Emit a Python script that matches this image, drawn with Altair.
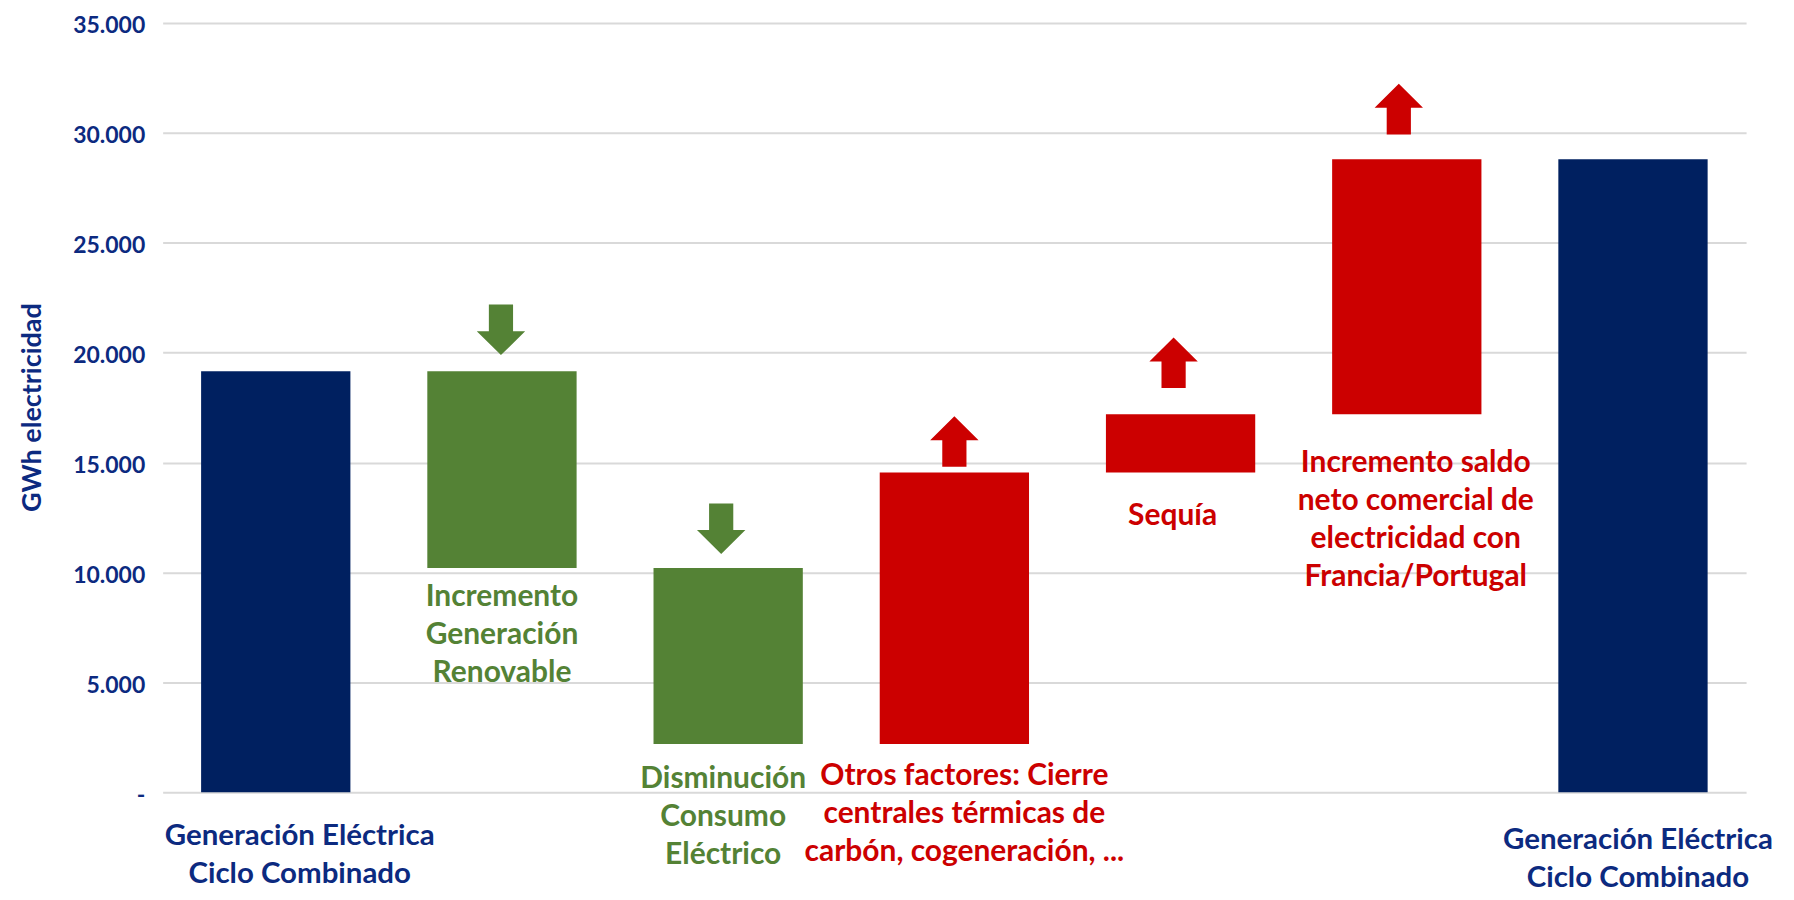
import altair as alt
import pandas as pd

# ---------------- data ----------------
categories = [
    "Generación Eléctrica Ciclo Combinado (inicial)",
    "Incremento Generación Renovable",
    "Disminución Consumo Eléctrico",
    "Otros factores",
    "Sequía",
    "Incremento saldo neto comercial",
    "Generación Eléctrica Ciclo Combinado (final)",
]
changes = [19150, -8950, -8000, 12350, 2650, 11600, None]  # None = running total
kinds = ["total", "baja", "baja", "sube", "sube", "sube", "total"]
labels = [
    ["Generación Eléctrica", "Ciclo Combinado"],
    ["Incremento", "Generación", "Renovable"],
    ["Disminución", "Consumo", "Eléctrico"],
    ["Otros factores: Cierre", "centrales térmicas de", "carbón, cogeneración, ..."],
    ["Sequía"],
    ["Incremento saldo", "neto comercial de", "electricidad con", "Francia/Portugal"],
    ["Generación Eléctrica", "Ciclo Combinado"],
]
y_ticks = [0, 5000, 10000, 15000, 20000, 25000, 30000, 35000]

# waterfall table
rows = []
level = 0
for cat, ch, kind, lab in zip(categories, changes, kinds, labels):
    if kind == "total":
        if ch is not None:
            level = ch
        low, high = 0, level
    else:
        new = level + ch
        low, high = min(level, new), max(level, new)
        level = new
    rows.append({"cat": cat, "low": low, "high": high, "kind": kind, "label": lab})
df = pd.DataFrame(rows)

# ---------------- styles ----------------
NAVY, GREEN, RED = "#002060", "#548235", "#CC0000"
NAVY_TEXT = "#0C2A80"
FONT = "Lato"
bar_scale = alt.Scale(domain=["total", "baja", "sube"], range=[NAVY, GREEN, RED])
text_scale = alt.Scale(domain=["total", "baja", "sube"], range=[NAVY_TEXT, GREEN, RED])
UP = "M0,-1.045 L1,-0.055 L0.5,-0.055 L0.5,1.045 L-0.5,1.045 L-0.5,-0.055 L-1,-0.055 Z"
DOWN = "M0,1.045 L1,0.055 L0.5,0.055 L0.5,-1.045 L-0.5,-1.045 L-0.5,0.055 L-1,0.055 Z"

# per-label placement (pixels)
label_dx = [24, 0, -5, 10, -8, 9, 5]
label_dy = [52.5, 38.3, 44.2, 41.2, 52.6, 57.8, 56.5]
# per-arrow placement (pixels), for indexes 1..5
arrow_dx = {1: -1, 2: -7, 3: 0, 4: -7, 5: -8}
arrow_dy = {1: -41.6, 2: -39.4, 3: -31, 4: -51.5, 5: -50.2}

x_enc = alt.X(
    "cat:N",
    sort=categories,
    scale=alt.Scale(paddingInner=0.34, paddingOuter=0.17),
    axis=None,
)
y_scale = alt.Scale(domain=[0, 35000], nice=False, zero=True)

base = alt.Chart(df)

bars = base.mark_bar().encode(
    x=x_enc,
    y=alt.Y(
        "low:Q",
        scale=y_scale,
        axis=alt.Axis(
            values=y_ticks,
            labelExpr="datum.value == 0 ? '-' : replace(format(datum.value, ',.0f'), ',', '.')",
            labelFont=FONT,
            labelFontWeight="bold",
            labelFontSize=23,
            labelColor=NAVY_TEXT,
            labelPadding=18,
            labelBaseline="alphabetic",
            labelOffset=10,
            domain=False,
            ticks=False,
            grid=True,
            gridColor="#d9d9d9",
            gridWidth=2,
            title="GWh electricidad",
            titleFont=FONT,
            titleFontWeight="bold",
            titleFontSize=27,
            titleColor=NAVY_TEXT,
            titleX=-122,
            titleY=385,
            titleBaseline="alphabetic",
        ),
    ),
    y2="high:Q",
    color=alt.Color("kind:N", scale=bar_scale, legend=None),
)

layers = [bars]

for i in range(1, 6):
    shape = UP if kinds[i] == "sube" else DOWN
    arrow = base.transform_filter(alt.datum.cat == categories[i]).mark_point(
        shape=shape,
        size=2352,
        filled=True,
        opacity=1,
        strokeWidth=0,
        xOffset=arrow_dx[i],
        yOffset=arrow_dy[i],
    ).encode(
        x=x_enc,
        y=alt.Y("high:Q", scale=y_scale),
        color=alt.Color("kind:N", scale=bar_scale, legend=None),
    )
    layers.append(arrow)

for i in range(len(categories)):
    fs = 29.5 if kinds[i] == "total" else 30
    txt = base.transform_filter(alt.datum.cat == categories[i]).mark_text(
        font=FONT,
        fontWeight="bold",
        fontSize=fs,
        align="center",
        baseline="alphabetic",
        lineHeight=38,
        dx=label_dx[i],
        dy=label_dy[i],
    ).encode(
        x=x_enc,
        y=alt.Y("low:Q", scale=y_scale),
        text="label:N",
        color=alt.Color("kind:N", scale=text_scale, legend=None),
    )
    layers.append(txt)

chart = alt.layer(*layers).resolve_scale(color="independent").properties(
    width=1587,
    height=771,
    autosize=alt.AutoSizeParams(type="none"),
    padding={"left": 155, "top": 14, "right": 40, "bottom": 100},
    background="white",
).configure_view(stroke=None)

chart.save("out.html", embed_options={"renderer": "svg", "actions": False})
